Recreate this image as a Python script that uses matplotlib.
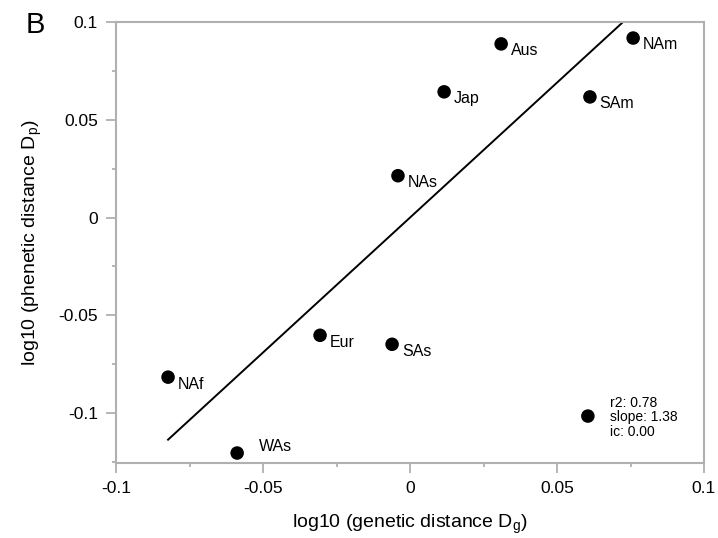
import numpy as np
import matplotlib
matplotlib.use('Agg')
import matplotlib.pyplot as plt
from matplotlib.ticker import MultipleLocator

plt.rcParams['font.family'] = ['Liberation Sans', 'DejaVu Sans']

# Populations: log10 genetic distance (x) vs log10 phenetic distance (y)
labels = ['Aus', 'NAm', 'Jap', 'SAm', 'NAs', 'Eur', 'SAs', 'NAf', 'WAs', '']
log_dg = [0.031, 0.0759, 0.0116, 0.0612, -0.0041, -0.0306, -0.0061, -0.0823, -0.0588, 0.0605]
log_dp = [0.0888, 0.0918, 0.0643, 0.0617, 0.0214, -0.0602, -0.0648, -0.0816, -0.1204, -0.1015]
ticks = [-0.1, -0.05, 0, 0.05, 0.1]

# regression summary
r2 = 0.78
slope = 1.38
intercept = 0.00

grey = '#b0b0b0'

fig = plt.figure(figsize=(7.18, 5.38), dpi=100)
ax = fig.add_axes([0.1616, 0.1394, 0.8189, 0.8197])

x = np.array(log_dg)
y = np.array(log_dp)
ax.scatter(x, y, s=95, color='black', zorder=3, edgecolors='none')

# fit line across the labelled points, clipped by the axes
xl = np.array([x[:-1].min(), x[:-1].max()])
ax.plot(xl, slope * xl + intercept, color='black', lw=1.4, zorder=2)

for lab, xi, yi in zip(labels, x, y):
    if not lab:
        continue
    off = (7, -5)
    if lab == 'WAs':
        off = (16, 5)
    ax.annotate(lab, (xi, yi), xytext=off, textcoords='offset points',
                ha='left', va='center', fontsize=11.5)

ax.annotate(f'r2: {r2:.2f}\nslope: {slope:.2f}\nic: {intercept:.2f}',
            (x[-1], y[-1]), xytext=(16, -1), textcoords='offset points',
            ha='left', va='center', fontsize=10, linespacing=1.05)

fmt = lambda v: '0' if abs(v) < 1e-9 else f'{v:g}'
ax.set_xticks(ticks)
ax.set_xticklabels([fmt(v) for v in ticks])
ax.set_yticks(ticks)
ax.set_yticklabels([fmt(v) for v in ticks])
ax.xaxis.set_minor_locator(MultipleLocator(0.025))
ax.yaxis.set_minor_locator(MultipleLocator(0.025))
ax.set_xlim(-0.1, 0.1)
ax.set_ylim(-0.1255, 0.1)

for sp in ax.spines.values():
    sp.set_color(grey)
    sp.set_linewidth(1.5)
ax.tick_params(which='major', direction='out', length=7, width=1.3, color=grey,
               labelsize=12.5, pad=6)
ax.tick_params(which='minor', direction='out', length=3, width=1.3, color=grey)

ax.set_xlabel('log10 (genetic distance D$_\\mathregular{g}$)', fontsize=14, labelpad=12)
ax.set_ylabel('log10 (phenetic distance D$_\\mathregular{p}$)', fontsize=14, labelpad=10)

fig.text(0.036, 0.953, 'B', fontsize=21, va='center', ha='left')

fig.savefig('out.png', dpi=100)
